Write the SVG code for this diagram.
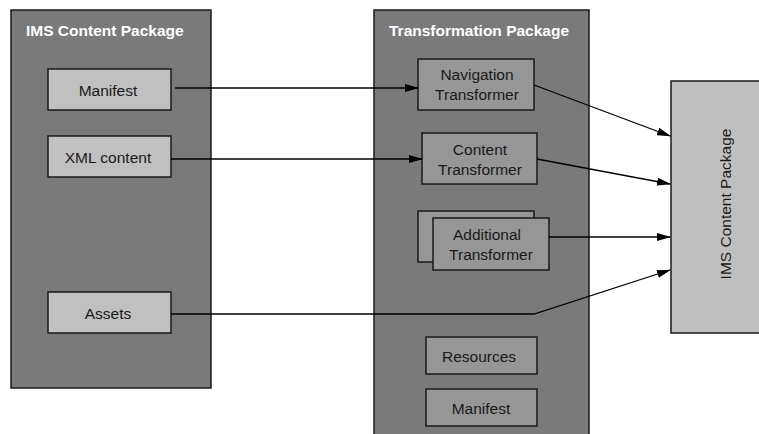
<svg xmlns="http://www.w3.org/2000/svg" width="759" height="434" viewBox="0 0 759 434">
<style>
.pkg{fill:#7a7a7a;stroke:#1a1a1a;stroke-width:1.5}
.lbox{fill:#c0c0c0;stroke:#1a1a1a;stroke-width:1.5}
.tbox{fill:#969696;stroke:#1a1a1a;stroke-width:1.5}
.title{font-family:"Liberation Sans",Arial,sans-serif;font-size:15.5px;font-weight:bold;fill:#ffffff}
.lbl{font-family:"Liberation Sans",Arial,sans-serif;font-size:15.5px;fill:#1a1a1a;text-anchor:middle}
.con{fill:none;stroke:#000;stroke-width:1.3}
</style>
<defs>
<marker id="arr" markerWidth="14" markerHeight="8" refX="13" refY="4" orient="auto" markerUnits="userSpaceOnUse">
<path d="M0,0 L14,4 L0,8 z" fill="#000"/>
</marker>
</defs>
<rect width="759" height="434" fill="#ffffff"/>
<g id="ims-left">
<rect class="pkg" x="11" y="10" width="200" height="378"/>
<text class="title" x="26" y="36">IMS Content Package</text>
</g>
<g id="transformation">
<rect class="pkg" x="374" y="10" width="215" height="430"/>
<text class="title" x="389" y="36">Transformation Package</text>
</g>
<g id="manifest-left">
<rect class="lbox" x="48" y="69" width="123" height="41"/>
<text class="lbl" x="108" y="96">Manifest</text>
</g>
<g id="xml-content">
<rect class="lbox" x="48" y="136" width="123" height="41"/>
<text class="lbl" x="108" y="163">XML content</text>
</g>
<g id="assets">
<rect class="lbox" x="48" y="292" width="123" height="41"/>
<text class="lbl" x="108" y="319">Assets</text>
</g>
<g id="nav-transformer">
<rect class="tbox" x="418" y="59" width="116" height="51"/>
<text class="lbl" x="477" y="80">Navigation</text>
<text class="lbl" x="477" y="100">Transformer</text>
</g>
<g id="content-transformer">
<rect class="tbox" x="422" y="133" width="115" height="51"/>
<text class="lbl" x="480" y="155">Content</text>
<text class="lbl" x="480" y="175">Transformer</text>
</g>
<g id="additional-transformer">
<rect class="tbox" x="418" y="211" width="116" height="51"/>
<rect class="tbox" x="433" y="218" width="116" height="52"/>
<text class="lbl" x="487" y="240">Additional</text>
<text class="lbl" x="491" y="260">Transformer</text>
</g>
<g id="resources">
<rect class="tbox" x="426" y="337" width="111" height="37"/>
<text class="lbl" x="479" y="362">Resources</text>
</g>
<g id="manifest-right">
<rect class="tbox" x="426" y="389" width="111" height="37"/>
<text class="lbl" x="481" y="414">Manifest</text>
</g>
<g id="ims-right">
<rect x="671" y="81" width="92" height="252" fill="#bfbfbf" stroke="#1a1a1a" stroke-width="1.5"/>
<text class="lbl" transform="translate(731,204) rotate(-90)" x="0" y="0">IMS Content Package</text>
</g>
<g id="connectors">
<line class="con" x1="175" y1="88" x2="418" y2="88" marker-end="url(#arr)"/>
<line class="con" x1="171" y1="159" x2="422" y2="159" marker-end="url(#arr)"/>
<line class="con" x1="534" y1="85" x2="670" y2="136" marker-end="url(#arr)"/>
<line class="con" x1="537" y1="159" x2="670" y2="184" marker-end="url(#arr)"/>
<line class="con" x1="549" y1="237" x2="670" y2="237" marker-end="url(#arr)"/>
<polyline class="con" points="171,314 534,314 670,270" marker-end="url(#arr)"/>
</g>
</svg>
